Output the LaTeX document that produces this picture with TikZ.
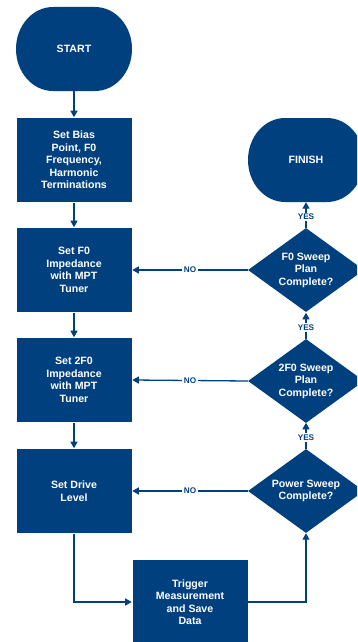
\documentclass[tikz,border=0pt]{standalone}
\usepackage{fontspec}
\setmainfont{Liberation Sans}
\usetikzlibrary{shapes.geometric,arrows.meta}
\definecolor{flowblue}{HTML}{00407F}
\newcommand{\termshape}[1]{%
  \fill[flowblue] #1 ++(-21,-42) -- ++(42,0)
    arc[start angle=90,end angle=-90,x radius=37pt,y radius=42pt] -- ++(-42,0)
    arc[start angle=-90,end angle=-270,x radius=37pt,y radius=42pt] -- cycle;}
\begin{document}
\begin{tikzpicture}[x=1pt,y=-1pt,
  every node/.style={font=\fontsize{10.6}{12.5}\selectfont\bfseries},
  procbox/.style={rectangle,fill=flowblue,draw=white,line width=0.6pt,text=white,align=center,minimum width=116pt,minimum height=85pt,inner sep=2pt},
  termbox/.style={rectangle,text=white,align=center,minimum width=116pt,minimum height=84pt},
  decbox/.style={diamond,fill=flowblue,text=white,align=center,minimum width=116pt,minimum height=84pt,inner sep=-9pt},
  conn/.style={draw=flowblue,line width=1.3pt,-{Triangle[width=7pt,length=6.5pt]}},
  lab/.style={fill=white,text=flowblue,inner sep=1.5pt,font=\fontsize{8.2}{9}\selectfont\bfseries}]
\useasboundingbox (0,0) rectangle (357,642);
\clip (0,0) rectangle (357,642);
\fill[white] (0,0) rectangle (357,642);
\termshape{(74,49)}
\node[termbox] (start) at (74,49) {START};
\termshape{(306,160)}
\node[termbox] (finish) at (306,160) {FINISH};
\node[procbox] (bias) at (74,160) {Set Bias\\Point, F0\\Frequency,\\Harmonic\\Terminations};
\node[procbox] (f0) at (74,270) {Set F0\\Impedance\\with MPT\\Tuner};
\node[procbox] (twof0) at (74,380) {Set 2F0\\Impedance\\with MPT\\Tuner};
\node[procbox] (drive) at (74,491) {Set Drive\\Level};
\node[procbox] (trig) at (190,602) {Trigger\\Measurement\\and Save\\Data};
\node[decbox] (d1) at (306,270) {F0 Sweep\\Plan\\Complete?};
\node[decbox] (d2) at (306,381) {2F0 Sweep\\Plan\\Complete?};
\node[decbox] (d3) at (306,491) {Power Sweep\\Complete?};
\draw[conn] (start) -- (bias);
\draw[conn] (bias) -- (f0);
\draw[conn] (f0) -- (twof0);
\draw[conn] (twof0) -- (drive);
\draw[conn] (drive.south) |- (trig.west);
\draw[conn] (trig.east) -| (d3.south);
\draw[conn] (d3.west) -- node[lab] {NO} (drive.east);
\draw[conn] (d2.west) -- node[lab] {NO} (twof0.east);
\draw[conn] (d1.west) -- node[lab] {NO} (f0.east);
\draw[conn] (d3.north) -- node[lab,pos=0.42] {YES} (twof0.south -| d3.north);
\draw[conn] (d2.north) -- node[lab,pos=0.42] {YES} (f0.south -| d2.north);
\draw[conn] (d1.north) -- node[lab,pos=0.42] {YES} (finish.south);
\end{tikzpicture}
\end{document}
